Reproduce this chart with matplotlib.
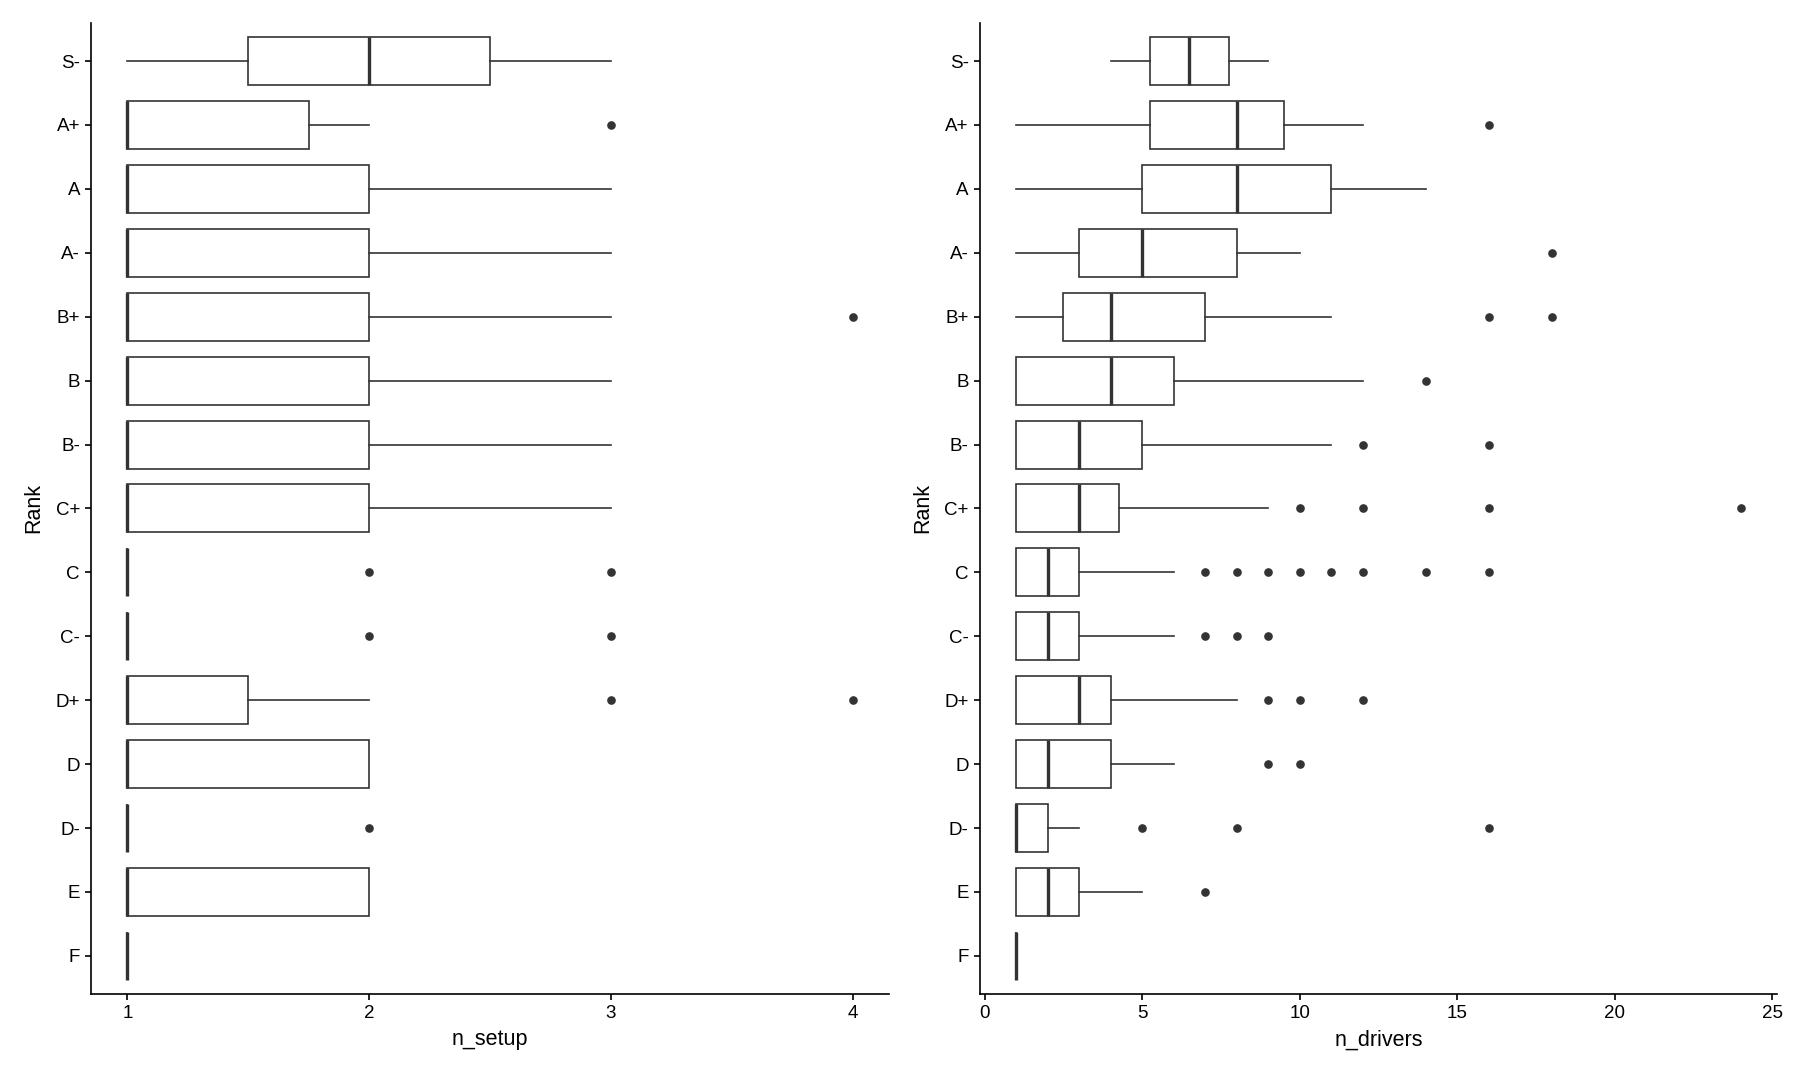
import matplotlib
matplotlib.use("Agg")
import matplotlib.pyplot as plt

plt.rcParams['font.family'] = ['Liberation Sans', 'DejaVu Sans']

ranks = ["S-", "A+", "A", "A-", "B+", "B", "B-", "C+", "C", "C-", "D+", "D", "D-", "E", "F"]

# n_setup summary per rank: whisker low, q1, median, q3, whisker high, outliers
setup_lo = [1, 1, 1, 1, 1, 1, 1, 1, 1, 1, 1, 1, 1, 1, 1]
setup_q1 = [1.5, 1, 1, 1, 1, 1, 1, 1, 1, 1, 1, 1, 1, 1, 1]
setup_med = [2, 1, 1, 1, 1, 1, 1, 1, 1, 1, 1, 1, 1, 1, 1]
setup_q3 = [2.5, 1.75, 2, 2, 2, 2, 2, 2, 1, 1, 1.5, 2, 1, 2, 1]
setup_hi = [3, 2, 3, 3, 3, 3, 3, 3, 1, 1, 2, 2, 1, 2, 1]
setup_out = [[], [3], [], [], [4], [], [], [], [2, 3], [2, 3], [3, 4], [], [2], [], []]

# n_drivers summary per rank
drv_lo = [4, 1, 1, 1, 1, 1, 1, 1, 1, 1, 1, 1, 1, 1, 1]
drv_q1 = [5.25, 5.25, 5, 3, 2.5, 1, 1, 1, 1, 1, 1, 1, 1, 1, 1]
drv_med = [6.5, 8, 8, 5, 4, 4, 3, 3, 2, 2, 3, 2, 1, 2, 1]
drv_q3 = [7.75, 9.5, 11, 8, 7, 6, 5, 4.25, 3, 3, 4, 4, 2, 3, 1]
drv_hi = [9, 12, 14, 10, 11, 12, 11, 9, 6, 6, 8, 6, 3, 5, 1]
drv_out = [[], [16], [], [18], [16, 18], [14], [12, 16], [10, 12, 16, 24],
           [7, 8, 9, 10, 11, 12, 14, 16], [7, 8, 9], [9, 10, 12], [9, 10],
           [5, 8, 16], [7], []]

GREY = "#333333"


def make_stats(lo, q1, med, q3, hi, out):
    stats = []
    for i in range(len(ranks)):
        stats.append(dict(label=ranks[i], whislo=lo[i], q1=q1[i], med=med[i],
                          q3=q3[i], whishi=hi[i], fliers=out[i]))
    return stats


def draw_panel(ax, stats, xlabel):
    pos = list(range(len(ranks) - 1, -1, -1))
    ax.bxp(stats, positions=pos, widths=0.75, orientation='horizontal',
           showcaps=False, patch_artist=True,
           boxprops=dict(facecolor="white", edgecolor=GREY, linewidth=1.2),
           whiskerprops=dict(color=GREY, linewidth=1.2),
           medianprops=dict(color=GREY, linewidth=2.4, solid_capstyle='butt'),
           flierprops=dict(marker='o', markerfacecolor=GREY, markeredgecolor=GREY,
                           markersize=5.2, linestyle='none'))
    ax.set_ylim(-0.6, len(ranks) - 0.4)
    ax.set_yticks(pos)
    ax.set_yticklabels(ranks)
    ax.spines['top'].set_visible(False)
    ax.spines['right'].set_visible(False)
    for s in ('left', 'bottom'):
        ax.spines[s].set_linewidth(1.2)
        ax.spines[s].set_color('black')
    ax.tick_params(axis='both', direction='out', length=4, width=1.2,
                   colors='black', labelsize=13.5, pad=4)
    ax.set_xlabel(xlabel, fontsize=15.5, labelpad=5)
    ax.set_ylabel("Rank", fontsize=15.5, labelpad=8)


fig = plt.figure(figsize=(18, 10.8), dpi=100)
ax1 = fig.add_axes([0.0506, 0.0794, 0.4433, 0.8996])
ax2 = fig.add_axes([0.5444, 0.0794, 0.4428, 0.8996])

draw_panel(ax1, make_stats(setup_lo, setup_q1, setup_med, setup_q3, setup_hi, setup_out), "n_setup")
ax1.set_xlim(0.85, 4.15)
ax1.set_xticks([1, 2, 3, 4])

draw_panel(ax2, make_stats(drv_lo, drv_q1, drv_med, drv_q3, drv_hi, drv_out), "n_drivers")
ax2.set_xlim(-0.15, 25.15)
ax2.set_xticks([0, 5, 10, 15, 20, 25])

plt.savefig("out.png", dpi=100)
